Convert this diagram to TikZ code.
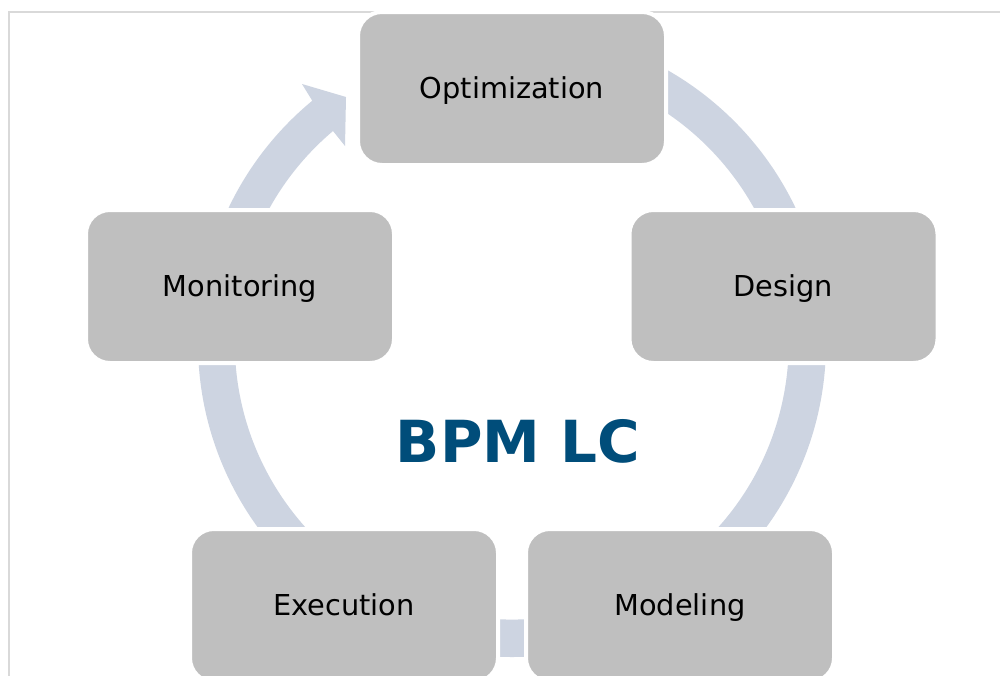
\documentclass[tikz,border=0pt]{standalone}
\usepackage{fontspec}
\setmainfont{DejaVu Sans}
\definecolor{ringc}{RGB}{205,212,225}
\definecolor{boxc}{RGB}{191,191,191}
\definecolor{titlec}{RGB}{0,77,122}
\definecolor{framec}{RGB}{217,217,217}
\begin{document}
\begin{tikzpicture}[x=1pt,y=1pt,
  box/.style={rectangle, rounded corners=24pt, fill=boxc, draw=white, line width=4pt,
    minimum width=308pt, minimum height=153pt, inner sep=0pt,
    font=\fontsize{28.8}{30}\selectfont, text=black, text height=20pt, text depth=0pt},
  ring/.style={fill=ringc},
  frame/.style={draw=framec, line width=2pt}]
\useasboundingbox (0,0) rectangle (1000,-675);
\fill[white] (0,0) rectangle (1000,-675);
\draw[frame] (9,-676) -- (9,-12) -- (1001,-12);
% ring with arrowhead
\begin{scope}[shift={(512,-343)}]
\fill[ring] (90:314) arc[start angle=90, end angle=-230.5, radius=314]
  -- (-210,259) -- (-166,246) -- (-167,197) -- (-179,212)
  arc[start angle=-229.8, end angle=90, radius=277] -- cycle;
\end{scope}
% boxes
\node[box] (opt) at (512,-88.5) {Optimization};
\node[box] (des) at (783.5,-286.5) {Design};
\node[box] (mod) at (680,-605.5) {Modeling};
\node[box] (exe) at (344,-605.5) {Execution};
\node[box] (mon) at (240,-286.5) {Monitoring};
\node[anchor=base, text=titlec, font=\fontsize{58}{60}\bfseries\selectfont, inner sep=0pt] (title) at (518,-462) {BPM LC};
\end{tikzpicture}
\end{document}
